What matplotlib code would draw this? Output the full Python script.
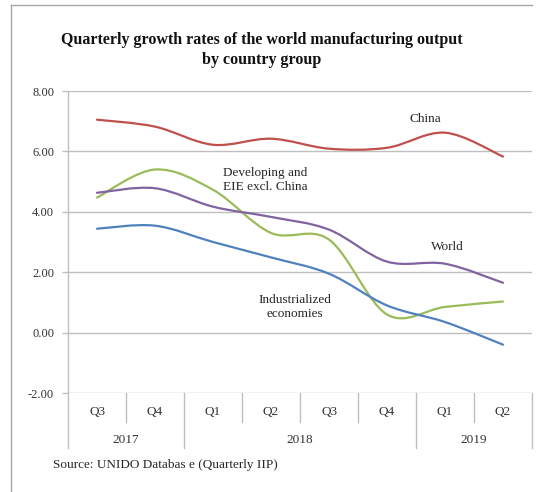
import matplotlib
matplotlib.use("Agg")
import matplotlib.pyplot as plt
from matplotlib.path import Path
from matplotlib.patches import PathPatch
from matplotlib.lines import Line2D
import matplotlib.transforms as mtransforms

quarters = ["Q3", "Q4", "Q1", "Q2", "Q3", "Q4", "Q1", "Q2"]
years = ["2017", "2018", "2019"]
year_spans = [2, 4, 2]  # quarters in each year group

china = [7.05, 6.82, 6.22, 6.42, 6.09, 6.12, 6.62, 5.83]
developing = [4.47, 5.40, 4.73, 3.30, 3.08, 0.60, 0.85, 1.03]
world = [4.63, 4.78, 4.17, 3.83, 3.41, 2.35, 2.28, 1.65]
industrialized = [3.44, 3.54, 3.00, 2.49, 1.95, 0.90, 0.35, -0.40]

series = [
    ("China", china, "#c0504d"),
    ("Developing and\nEIE excl. China", developing, "#9bbb59"),
    ("World", world, "#8064a2"),
    ("Industrialized\neconomies", industrialized, "#4f81bd"),
]

W, H = 541, 492
fig = plt.figure(figsize=(W / 100, H / 100), dpi=100)
serif = "Liberation Serif"
plt.rcParams["font.family"] = serif

left, right, top, bottom = 68, 532, 91, 393
ax = fig.add_axes([left / W, 1 - bottom / H, (right - left) / W, (bottom - top) / H])
ax.set_xlim(0, len(quarters))
ax.set_ylim(-2, 8)
ax.set_yticks([-2, 0, 2, 4, 6, 8])
ax.set_yticklabels([f"{v:.2f}" for v in [-2, 0, 2, 4, 6, 8]])
ax.yaxis.grid(True, color="#bfbfbf", linewidth=1.0)
ax.set_axisbelow(True)
for s in ["top", "right", "bottom", "left"]:
    ax.spines[s].set_visible(False)
ax.tick_params(axis="y", length=4, width=1, color="#bfbfbf", pad=6,
               labelsize=9, labelcolor="#333333")
ax.set_xticks([])


def smooth_path(xs, ys):
    verts = [(xs[0], ys[0])]
    codes = [Path.MOVETO]
    n = len(xs)
    for i in range(n - 1):
        x0, y0 = xs[i], ys[i]
        x1, y1 = xs[i + 1], ys[i + 1]
        xm, ym = (xs[i - 1], ys[i - 1]) if i > 0 else (x0, y0)
        xp, yp = (xs[i + 2], ys[i + 2]) if i + 2 < n else (x1, y1)
        c1 = (x0 + (x1 - xm) / 6, y0 + (y1 - ym) / 6)
        c2 = (x1 - (xp - x0) / 6, y1 - (yp - y0) / 6)
        verts += [c1, c2, (x1, y1)]
        codes += [Path.CURVE4, Path.CURVE4, Path.CURVE4]
    return Path(verts, codes)


xs = [i + 0.5 for i in range(len(quarters))]
for name, vals, col in series:
    p = PathPatch(smooth_path(xs, vals), facecolor="none", edgecolor=col,
                  linewidth=1.6, capstyle="round", joinstyle="round")
    ax.add_patch(p)

# category axis
trans = mtransforms.blended_transform_factory(ax.transData, ax.transAxes)
ph = bottom - top
long_y = -(448 - bottom) / ph
short_y = -(422 - bottom) / ph
boundaries = [0]
for s in year_spans:
    boundaries.append(boundaries[-1] + s)
for i in range(len(quarters) + 1):
    yend = long_y if i in boundaries else short_y
    ax.add_line(Line2D([i, i], [1.0 if i == 0 else 0, yend], transform=trans,
                       color="#bfbfbf", linewidth=1.0, clip_on=False))
for i, q in enumerate(quarters):
    ax.text(i + 0.5, -(412 - bottom) / ph, q, transform=trans, ha="center",
            va="center", fontsize=9.5, color="#333333")
for j, yname in enumerate(years):
    c = (boundaries[j] + boundaries[j + 1]) / 2
    ax.text(c, -(440 - bottom) / ph, yname, transform=trans, ha="center",
            va="center", fontsize=9.5, color="#333333")


def data_from_px(px, py):
    x = (px - left) / (right - left) * len(quarters)
    y = 8 - (py - top) / (bottom - top) * 10
    return x, y


# series labels
label_pos = [(425, 119), (265, 180), (447, 247), (295, 307)]
for (name, vals, col), (lx, ly) in zip(series, label_pos):
    x, y = data_from_px(lx, ly)
    ax.text(x, y, name, ha="center", va="center", fontsize=9.5,
            color="#262626", linespacing=1.15)

# title
fig.text(262 / W, 1 - 50 / H,
         "Quarterly growth rates of the world manufacturing output\nby country group",
         ha="center", va="center", fontsize=11.5, fontweight="bold",
         color="#111111", linespacing=1.3)

# source
fig.text(53 / W, 1 - 465 / H, "Source: UNIDO Databas e (Quarterly IIP)",
         ha="left", va="center", fontsize=9.5, color="#262626")

# frame
fig.add_artist(Line2D([11 / W, 532 / W], [1 - 5 / H, 1 - 5 / H],
                      transform=fig.transFigure, color="#a6a6a6", linewidth=1))
fig.add_artist(Line2D([11 / W, 11 / W], [1 - 5 / H, 0], transform=fig.transFigure,
                      color="#a6a6a6", linewidth=1))

fig.savefig("out.png", dpi=100, facecolor="white")
